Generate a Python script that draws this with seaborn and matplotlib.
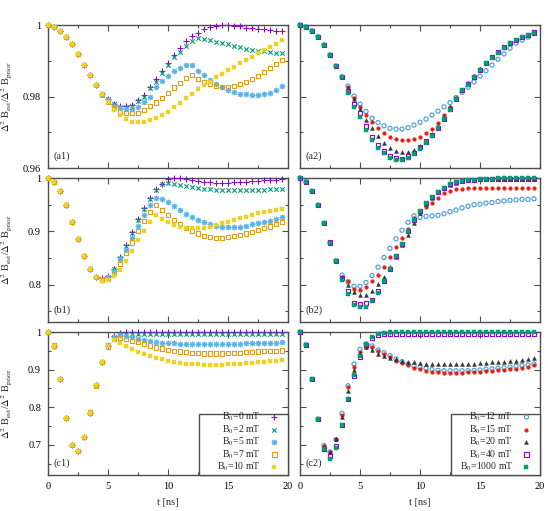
import seaborn as sns
import matplotlib.pyplot as plt
import matplotlib.ticker as mticker
from matplotlib.patches import Rectangle

# time grid [ns]
t_ns = [0, 0.5, 1, 1.5, 2, 2.5, 3, 3.5, 4, 4.5, 5, 5.5, 6, 6.5, 7, 7.5, 8, 8.5, 9, 9.5,
        10, 10.5, 11, 11.5, 12, 12.5, 13, 13.5, 14, 14.5, 15, 15.5, 16, 16.5, 17, 17.5, 18, 18.5, 19, 19.5]

# ---- row a (left: low fields, right: high fields) ----
a1_start = [1.0, 0.9995, 0.9984, 0.9967, 0.9946, 0.9919, 0.9889, 0.9860, 0.9832]
a1_b0 = a1_start + [0.9808, 0.9792, 0.9779, 0.9773, 0.9773, 0.9776, 0.9790, 0.9804, 0.9827, 0.9848,
                    0.9872, 0.9895, 0.9916, 0.9936, 0.9954, 0.9969, 0.9979, 0.9988, 0.9995, 0.9998,
                    1.0, 0.9999, 0.9998, 0.9996, 0.9993, 0.9992, 0.9990, 0.9988, 0.9986, 0.9984, 0.9983]
a1_b2 = a1_start + [0.9808, 0.9792, 0.9778, 0.9772, 0.9771, 0.9774, 0.9787, 0.9799, 0.9823, 0.9841,
                    0.9865, 0.9888, 0.9910, 0.9925, 0.9940, 0.9955, 0.9965, 0.9961, 0.9957, 0.9953,
                    0.9950, 0.9946, 0.9942, 0.9938, 0.9934, 0.9931, 0.9928, 0.9926, 0.9924, 0.9923, 0.9923]
a1_b5 = a1_start + [0.9807, 0.9790, 0.9773, 0.9768, 0.9764, 0.9765, 0.9772, 0.9784, 0.9799, 0.9826,
                    0.9843, 0.9858, 0.9870, 0.9880, 0.9888, 0.9888, 0.9872, 0.9859, 0.9846, 0.9834,
                    0.9826, 0.9818, 0.9812, 0.9808, 0.9806, 0.9805, 0.9805, 0.9806, 0.9809, 0.9818, 0.9830]
a1_b7 = a1_start + [0.9805, 0.9786, 0.9767, 0.9758, 0.9755, 0.9753, 0.9755, 0.9762, 0.9773, 0.9783,
                    0.9795, 0.9809, 0.9825, 0.9837, 0.9851, 0.9860, 0.9849, 0.9840, 0.9834, 0.9829,
                    0.9827, 0.9827, 0.9829, 0.9835, 0.9841, 0.9848, 0.9857, 0.9869, 0.9879, 0.9890, 0.9902]
a1_b10 = a1_start + [0.9806, 0.9784, 0.9762, 0.9748, 0.9738, 0.9730, 0.9730, 0.9730, 0.9734, 0.9740,
                     0.9748, 0.9758, 0.9770, 0.9782, 0.9795, 0.9807, 0.9820, 0.9832, 0.9841, 0.9854,
                     0.9863, 0.9874, 0.9883, 0.9894, 0.9902, 0.9911, 0.9921, 0.9930, 0.9939, 0.9948, 0.9958]

a2_start = [1.0, 0.9995, 0.9984, 0.9967, 0.9944, 0.9916, 0.9885, 0.9855]
a2_b12 = a2_start + [0.9829, 0.9801, 0.9779, 0.9758, 0.9739, 0.9727, 0.9718, 0.9711, 0.9709, 0.9709,
                     0.9713, 0.9720, 0.9728, 0.9737, 0.9748, 0.9759, 0.9771, 0.9783, 0.9797, 0.9812,
                     0.9826, 0.9841, 0.9857, 0.9872, 0.9888, 0.9904, 0.9919, 0.9935, 0.9949, 0.9958,
                     0.9966, 0.9977]
a2_b15 = a2_start + [0.9827, 0.9795, 0.9772, 0.9748, 0.9728, 0.9711, 0.9699, 0.9688, 0.9681, 0.9678,
                     0.9678, 0.9681, 0.9688, 0.9697, 0.9708, 0.9725, 0.9748, 0.9771, 0.9795, 0.9818,
                     0.9838, 0.9857, 0.9877, 0.9895, 0.9911, 0.9925, 0.9938, 0.9950, 0.9959, 0.9967,
                     0.9973, 0.9980]
a2_b20 = a2_start + [0.9825, 0.9792, 0.9764, 0.9734, 0.9711, 0.9689, 0.9670, 0.9656, 0.9647, 0.9645,
                     0.9645, 0.9650, 0.9662, 0.9676, 0.9695, 0.9718, 0.9743, 0.9770, 0.9795, 0.9818,
                     0.9836, 0.9856, 0.9876, 0.9894, 0.9910, 0.9924, 0.9938, 0.9950, 0.9959, 0.9967,
                     0.9973, 0.9979]
a2_b40 = a2_start + [0.9815, 0.9778, 0.9753, 0.9716, 0.9686, 0.9664, 0.9646, 0.9634, 0.9628, 0.9625,
                     0.9632, 0.9643, 0.9658, 0.9674, 0.9692, 0.9713, 0.9738, 0.9764, 0.9794, 0.9818,
                     0.9834, 0.9855, 0.9875, 0.9894, 0.9910, 0.9924, 0.9938, 0.9950, 0.9959, 0.9967,
                     0.9973, 0.9979]
a2_b1000 = a2_start + [0.9811, 0.9772, 0.9742, 0.9706, 0.9678, 0.9655, 0.9641, 0.9627, 0.9622, 0.9622,
                       0.9627, 0.9638, 0.9652, 0.9669, 0.9690, 0.9711, 0.9736, 0.9762, 0.9793, 0.9818,
                       0.9832, 0.9854, 0.9874, 0.9893, 0.9909, 0.9923, 0.9937, 0.9949, 0.9958, 0.9966,
                       0.9972, 0.9979]

# ---- row b ----
b1_start = [1.0, 0.993, 0.975, 0.949, 0.917, 0.885, 0.853, 0.829, 0.815]
b1_b0 = b1_start + [0.812, 0.816, 0.830, 0.851, 0.874, 0.898, 0.923, 0.944, 0.963, 0.979,
                    0.989, 0.9975, 0.9994, 0.9994, 0.9975, 0.9956, 0.9943, 0.9931, 0.9918, 0.9912,
                    0.9912, 0.9912, 0.9918, 0.9924, 0.9931, 0.9937, 0.9943, 0.9956, 0.9962, 0.9968, 0.9975]
b1_b2 = b1_start + [0.811, 0.815, 0.829, 0.850, 0.873, 0.897, 0.921, 0.942, 0.960, 0.9767,
                    0.9893, 0.9912, 0.9880, 0.9861, 0.9842, 0.9823, 0.9811, 0.9798, 0.9786, 0.9779,
                    0.9773, 0.9767, 0.9767, 0.9767, 0.9767, 0.9767, 0.9773, 0.9779, 0.9786, 0.9792, 0.9798]
b1_b5 = b1_start + [0.809, 0.814, 0.825, 0.849, 0.865, 0.888, 0.910, 0.931, 0.950, 0.962,
                    0.961, 0.955, 0.947, 0.940, 0.933, 0.926, 0.922, 0.917, 0.913, 0.910,
                    0.909, 0.909, 0.909, 0.909, 0.910, 0.913, 0.915, 0.918, 0.920, 0.923, 0.926]
b1_b7 = b1_start + [0.808, 0.811, 0.822, 0.838, 0.859, 0.879, 0.901, 0.920, 0.936, 0.950,
                    0.940, 0.931, 0.922, 0.914, 0.906, 0.901, 0.896, 0.892, 0.890, 0.888,
                    0.888, 0.890, 0.892, 0.893, 0.896, 0.899, 0.903, 0.906, 0.909, 0.914, 0.917]
b1_b10 = b1_start + [0.806, 0.808, 0.816, 0.827, 0.844, 0.863, 0.883, 0.901, 0.917, 0.931,
                     0.924, 0.918, 0.912, 0.909, 0.907, 0.906, 0.906, 0.907, 0.909, 0.912,
                     0.915, 0.918, 0.922, 0.925, 0.927, 0.931, 0.934, 0.937, 0.939, 0.940, 0.942]

b2_start = [1.0, 0.993, 0.975, 0.949, 0.915, 0.879, 0.845]
b2_b12 = b2_start + [0.818, 0.805, 0.797, 0.797, 0.804, 0.817, 0.833, 0.851, 0.868, 0.886,
                     0.902, 0.917, 0.929, 0.926, 0.928, 0.929, 0.930, 0.933, 0.937, 0.940,
                     0.944, 0.947, 0.950, 0.951, 0.953, 0.954, 0.956, 0.957, 0.958, 0.959,
                     0.960, 0.960, 0.961]
b2_b15 = b2_start + [0.815, 0.806, 0.791, 0.790, 0.796, 0.807, 0.819, 0.834, 0.852, 0.870,
                     0.887, 0.904, 0.925, 0.936, 0.945, 0.954, 0.963, 0.971, 0.976, 0.979,
                     0.980, 0.981, 0.981, 0.981, 0.981, 0.981, 0.981, 0.981, 0.981, 0.981,
                     0.981, 0.981, 0.981]
b2_b20 = b2_start + [0.815, 0.800, 0.787, 0.780, 0.780, 0.788, 0.801, 0.815, 0.833, 0.852,
                     0.874, 0.894, 0.915, 0.935, 0.951, 0.963, 0.973, 0.981, 0.987, 0.991,
                     0.994, 0.996, 0.997, 0.998, 0.998, 0.998, 0.998, 0.998, 0.998, 0.998,
                     0.998, 0.998, 0.998]
b2_b40 = b2_start + [0.812, 0.788, 0.765, 0.763, 0.765, 0.772, 0.788, 0.807, 0.829, 0.853,
                     0.876, 0.900, 0.921, 0.938, 0.953, 0.965, 0.974, 0.982, 0.988, 0.992,
                     0.995, 0.996, 0.997, 0.998, 0.998, 0.998, 0.998, 0.998, 0.998, 0.998,
                     0.998, 0.998, 0.998]
b2_b1000 = b2_start + [0.808, 0.783, 0.762, 0.758, 0.759, 0.769, 0.785, 0.807, 0.829, 0.853,
                       0.876, 0.900, 0.921, 0.938, 0.953, 0.965, 0.974, 0.982, 0.988, 0.992,
                       0.995, 0.996, 0.997, 0.998, 0.999, 0.999, 1.0, 1.0, 1.0, 1.0,
                       1.0, 1.0, 1.0]

# ---- row c ----
c1_start = [1.0, 0.964, 0.874, 0.771, 0.700, 0.684, 0.721, 0.786, 0.858, 0.921]
c1_b0 = c1_start + [0.964, 0.989, 0.998] + [1.0] * 27
c1_b2 = c1_start + [0.965, 0.988, 0.996] + [0.996] * 27
c1_b5 = c1_start + [0.966, 0.988, 0.992, 0.989, 0.986, 0.982, 0.979, 0.976, 0.973, 0.972,
                    0.971, 0.970, 0.969, 0.968, 0.968, 0.968, 0.968, 0.968, 0.968, 0.968,
                    0.968, 0.969, 0.969, 0.970, 0.970, 0.971, 0.971, 0.972, 0.972, 0.973]
c1_b7 = c1_start + [0.961, 0.981, 0.983, 0.981, 0.977, 0.973, 0.968, 0.964, 0.959, 0.956,
                    0.952, 0.950, 0.948, 0.946, 0.945, 0.944, 0.943, 0.943, 0.943, 0.943,
                    0.944, 0.944, 0.945, 0.946, 0.947, 0.948, 0.949, 0.949, 0.950, 0.951]
c1_b10 = c1_start + [0.963, 0.979, 0.970, 0.963, 0.954, 0.948, 0.942, 0.936, 0.932, 0.927,
                     0.924, 0.920, 0.918, 0.916, 0.915, 0.914, 0.913, 0.913, 0.913, 0.913,
                     0.914, 0.915, 0.916, 0.917, 0.918, 0.920, 0.921, 0.922, 0.924, 0.926]

c2_start = [1.0, 0.966, 0.874, 0.768]
c2_b12 = c2_start + [0.698, 0.681, 0.714, 0.784, 0.857, 0.915, 0.954, 0.968, 0.963, 0.952,
                     0.945, 0.937, 0.928, 0.921, 0.915, 0.910, 0.906, 0.903, 0.900, 0.898,
                     0.897, 0.897, 0.897, 0.897, 0.897, 0.898, 0.899, 0.901, 0.902, 0.904,
                     0.905, 0.907, 0.909, 0.911, 0.912, 0.915]
c2_b15 = c2_start + [0.698, 0.681, 0.715, 0.780, 0.855, 0.906, 0.948, 0.961, 0.959, 0.950,
                     0.941, 0.933, 0.924, 0.917, 0.911, 0.905, 0.901, 0.897, 0.895, 0.893,
                     0.892, 0.892, 0.892, 0.892, 0.893, 0.894, 0.895, 0.896, 0.897, 0.898,
                     0.899, 0.901, 0.903, 0.905, 0.908, 0.911]
c2_b20 = c2_start + [0.696, 0.681, 0.715, 0.775, 0.844, 0.899, 0.945, 0.959, 0.952, 0.942,
                     0.936, 0.932, 0.927, 0.924, 0.920, 0.919, 0.917, 0.916, 0.915, 0.915,
                     0.915, 0.915, 0.915, 0.915, 0.916, 0.916, 0.917, 0.918, 0.919, 0.920,
                     0.921, 0.922, 0.924, 0.926, 0.929, 0.931]
c2_b40 = c2_start + [0.690, 0.671, 0.696, 0.753, 0.822, 0.883, 0.933, 0.965, 0.983, 0.993] + [0.994] * 26
c2_b1000 = c2_start + [0.689, 0.662, 0.691, 0.753, 0.822, 0.886, 0.936, 0.968, 0.986, 0.995,
                       0.998, 0.999] + [1.0] * 24

low_labels = ['B$_0$=0 mT', 'B$_0$=2 mT', 'B$_0$=5 mT', 'B$_0$=7 mT', 'B$_0$=10 mT']
high_labels = ['B$_0$=12 mT', 'B$_0$=15 mT', 'B$_0$=20 mT', 'B$_0$=40 mT', 'B$_0$=1000 mT']
panel_tags = [['(a1)', '(a2)'], ['(b1)', '(b2)'], ['(c1)', '(c2)']]

# styles: colour, marker, size, fill ('line', 'open', 'full')
low_styles = [('#9400D3', '+', 16, 'line'), ('#009E73', 'x', 10, 'line'),
              ('#56B4E9', (8, 2, 0), 11, 'line'), ('#E69F00', 's', 9, 'open'),
              ('#EDD226', 's', 9, 'full')]
high_styles = [('#3F9AD6', 'o', 9, 'open'), ('#E51E10', 'o', 7, 'full'),
               ('#333333', '^', 8, 'full'), ('#9400D3', 's', 9, 'open'),
               ('#009E73', 's', 9, 'full')]

sns.set_style('ticks')
plt.rcParams['font.family'] = ['Liberation Serif', 'DejaVu Serif']
plt.rcParams['mathtext.fontset'] = 'stix'
plt.rcParams['font.size'] = 7.5

fig = plt.figure(figsize=(5.48, 5.11), dpi=100)
W, H = 548.0, 511.0
col_x = [48, 300]
row_y = [(25, 168), (178, 322), (332, 475)]
ylims = [(0.96, 1.0), (0.73, 1.0), (0.62, 1.0)]
ymaj = [0.02, 0.1, 0.1]
ymin = [0.01, 0.05, 0.05]

data = [[[a1_b0, a1_b2, a1_b5, a1_b7, a1_b10], [a2_b12, a2_b15, a2_b20, a2_b40, a2_b1000]],
        [[b1_b0, b1_b2, b1_b5, b1_b7, b1_b10], [b2_b12, b2_b15, b2_b20, b2_b40, b2_b1000]],
        [[c1_b0, c1_b2, c1_b5, c1_b7, c1_b10], [c2_b12, c2_b15, c2_b20, c2_b40, c2_b1000]]]

for r in range(3):
    top, bot = row_y[r]
    for c in range(2):
        ax = fig.add_axes([col_x[c] / W, 1 - bot / H, 240 / W, (bot - top) / H])
        styles = low_styles if c == 0 else high_styles
        labels = low_labels if c == 0 else high_labels
        for vals, (col, mk, sz, fill), lab in zip(data[r][c], styles, labels):
            kw = dict(marker=mk, s=sz, ax=ax, label=lab, clip_on=False, zorder=3)
            if fill == 'line':
                sns.scatterplot(x=t_ns, y=vals, color=col, linewidth=0.8, **kw)
            elif fill == 'open':
                sns.scatterplot(x=t_ns, y=vals, color=col, facecolor='none',
                                edgecolor=col, linewidth=0.8, **kw)
            else:
                sns.scatterplot(x=t_ns, y=vals, color=col, edgecolor=col,
                                linewidth=0.3, **kw)

        ax.set_xlim(0, 20)
        ax.set_ylim(*ylims[r])
        ax.xaxis.set_major_locator(mticker.MultipleLocator(5))
        ax.xaxis.set_minor_locator(mticker.MultipleLocator(2.5))
        ax.yaxis.set_major_locator(mticker.MultipleLocator(ymaj[r]))
        ax.yaxis.set_minor_locator(mticker.MultipleLocator(ymin[r]))
        ax.yaxis.set_major_formatter(mticker.FormatStrFormatter('%g'))
        ax.tick_params(which='both', direction='in', top=True, right=True,
                       colors='0.3', labelcolor='black', width=0.8, labelsize=7.5)
        ax.tick_params(which='major', length=4, pad=5)
        ax.tick_params(which='minor', length=2)
        for sp in ax.spines.values():
            sp.set_color('0.3')
            sp.set_linewidth(1.0)
        if c == 1:
            ax.tick_params(labelleft=False)
        if r < 2:
            ax.tick_params(labelbottom=False)
        ax.text(0.025, 0.05, panel_tags[r][c], transform=ax.transAxes,
                ha='left', va='bottom', fontsize=7.5)
        ax.set_xlabel('t [ns]' if r == 2 else '')
        if c == 0:
            ax.set_ylabel(r'$\Delta^2$ B$_{\rm est}$/$\Delta^2$ B$_{\rm prior}$')
            ax.yaxis.set_label_coords(-0.14, 0.5)
        else:
            ax.set_ylabel('')
        if r == 2:
            ax.xaxis.set_label_coords(0.5, -0.16)
            # key box in the lower right corner
            ax.add_patch(Rectangle((0.629, 0), 0.371, 0.43, transform=ax.transAxes,
                                   facecolor='white', edgecolor='0.3', linewidth=1.0,
                                   zorder=4, clip_on=False))
            leg = ax.legend(loc='lower right', bbox_to_anchor=(0.972, 0.0),
                            markerfirst=False, frameon=False, borderaxespad=0,
                            borderpad=0.2, handletextpad=0.9, labelspacing=0.0,
                            handlelength=1.0, scatterpoints=1, fontsize=7)
            leg.set_zorder(5)
        else:
            if ax.get_legend() is not None:
                ax.get_legend().remove()

fig.savefig('out.png', dpi=100)
